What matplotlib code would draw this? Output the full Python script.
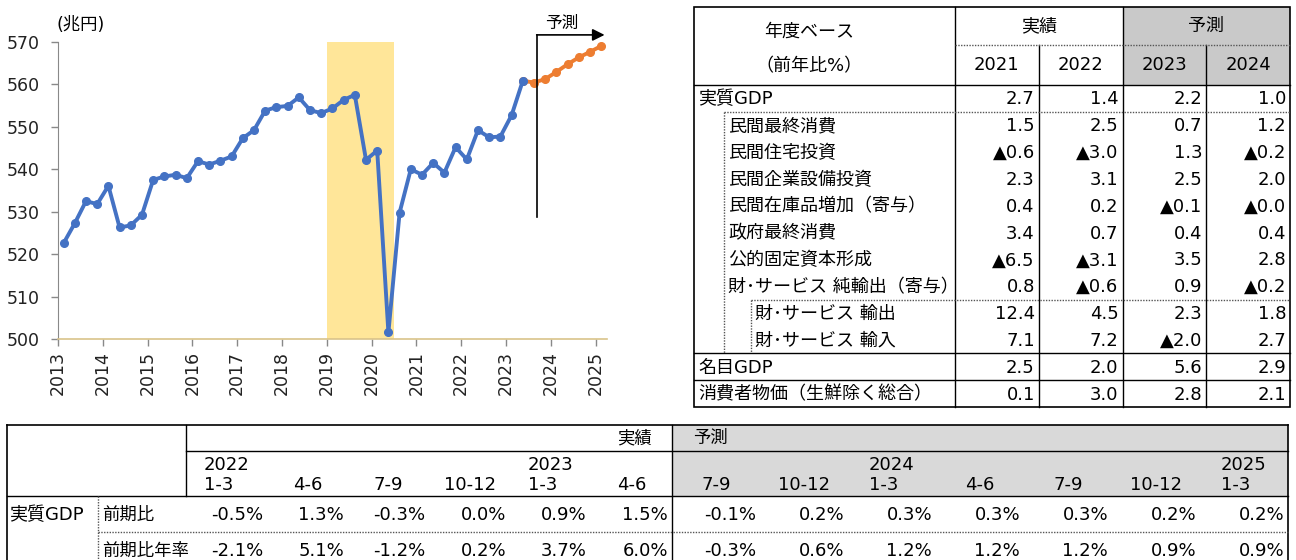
import numpy as np
import matplotlib
matplotlib.use("Agg")
import matplotlib.pyplot as plt
from matplotlib.patches import Rectangle

plt.rcParams["font.family"] = ["DejaVu Sans", "Noto Sans CJK JP"]

# ---- chart data (実質GDP, 兆円, quarterly from 2013 1-3) ----
start_year = 2013
gdp_actual = [
    522.6, 527.3, 532.5, 531.8,  # 2013
    536.1, 526.3, 526.8, 529.3,  # 2014
    537.5, 538.3, 538.7, 537.9,  # 2015
    541.9, 541.1, 542.0, 543.0,  # 2016
    547.3, 549.2, 553.8, 554.6,  # 2017
    554.9, 556.9, 553.9, 553.2,  # 2018
    554.3, 556.3, 557.5, 542.2,  # 2019
    544.4, 501.6, 529.8, 540.0,  # 2020
    538.7, 541.5, 539.2, 545.2,  # 2021
    542.3, 549.2, 547.5, 547.7,  # 2022
    552.7, 560.8,                # 2023
]
gdp_forecast = [560.4, 561.2, 562.9, 564.7, 566.3, 567.6, 569.0]
shade_start, shade_end = 24, 30  # quarter index span of shaded band

# ---- fiscal year table ----
fy_rows = ["実質GDP", "民間最終消費", "民間住宅投資", "民間企業設備投資",
           "民間在庫品増加（寄与）", "政府最終消費", "公的固定資本形成",
           "財･サービス 純輸出（寄与）", "財･サービス 輸出", "財･サービス 輸入",
           "名目GDP", "消費者物価（生鮮除く総合）"]
fy_indent = [0, 1, 1, 1, 1, 1, 1, 1, 2, 2, 0, 0]
fy_years = ["2021", "2022", "2023", "2024"]
fy_2021 = [2.7, 1.5, -0.6, 2.3, 0.4, 3.4, -6.5, 0.8, 12.4, 7.1, 2.5, 0.1]
fy_2022 = [1.4, 2.5, -3.0, 3.1, 0.2, 0.7, -3.1, -0.6, 4.5, 7.2, 2.0, 3.0]
fy_2023 = [2.2, 0.7, 1.3, 2.5, -0.1, 0.4, 3.5, 0.9, 2.3, -2.0, 5.6, 2.8]
fy_2024 = [1.0, 1.2, -0.2, 2.0, -0.0, 0.4, 2.8, -0.2, 1.8, 2.7, 2.9, 2.1]

# ---- quarterly table ----
q_years = ["2022", "", "", "", "2023", "", "", "", "2024", "", "", "", "2025"]
q_parts = ["1-3", "4-6", "7-9", "10-12", "1-3", "4-6", "7-9", "10-12",
           "1-3", "4-6", "7-9", "10-12", "1-3"]
q_qoq = [-0.5, 1.3, -0.3, 0.0, 0.9, 1.5, -0.1, 0.2, 0.3, 0.3, 0.3, 0.2, 0.2]
q_ann = [-2.1, 5.1, -1.2, 0.2, 3.7, 6.0, -0.3, 0.6, 1.2, 1.2, 1.2, 0.9, 0.9]
n_actual_q = 6

BLUE = "#4472C4"
ORANGE = "#ED7D31"
W, H = 1296, 560

fig = plt.figure(figsize=(W / 100, H / 100), dpi=100)


def px(x0, y0, w, h):
    return [x0 / W, 1 - (y0 + h) / H, w / W, h / H]


# ================= line chart =================
ax = fig.add_axes(px(58, 41.7, 548.8, 297.6))
n_total = len(gdp_actual) + len(gdp_forecast)
x_act = np.arange(len(gdp_actual)) + 0.5
x_fc = np.arange(len(gdp_actual) - 1, n_total) + 0.5
ax.axvspan(shade_start, shade_end, color="#FFE699", lw=0, zorder=0)
ax.plot(x_fc, [gdp_actual[-1]] + gdp_forecast, color=ORANGE, lw=2.8,
        marker="o", ms=5.5, zorder=3)
ax.plot(x_act, gdp_actual, color=BLUE, lw=2.8, marker="o", ms=5.5, zorder=4)

ax.set_xlim(0, n_total)
ax.set_ylim(500, 570)
ax.set_yticks(np.arange(500, 571, 10))
n_years = n_total // 4 + 1
ax.set_xticks(np.arange(n_years) * 4)
ax.set_xticklabels([str(start_year + i) for i in range(n_years)], rotation=90)
ax.tick_params(axis="both", labelsize=12.5, colors="#898989", labelcolor="#222222",
               length=5, width=1)
ax.tick_params(axis="y", pad=8)
for s in ("top", "right"):
    ax.spines[s].set_visible(False)
ax.spines["left"].set_color("#898989")
ax.spines["bottom"].set_color("#D9C38A")
ax.spines["bottom"].set_linewidth(1.2)

# forecast marker
fx = len(gdp_actual) + 0.8
ax.plot([fx, fx], [528.7, 571.6], color="black", lw=1.2, clip_on=False, zorder=5)
ax.annotate("", xy=(n_total - 0.2, 571.6), xytext=(fx - 0.06, 571.6),
            arrowprops=dict(arrowstyle="-|>", color="black", lw=1.2,
                            mutation_scale=18, shrinkA=0, shrinkB=0),
            annotation_clip=False)
ax.text(45.0, 574.4, "予測", fontsize=12, ha="center", va="center",
        family=["Noto Sans CJK JP"])
fig.text(57 / W, 1 - 25 / H, "(兆円)", fontsize=12.5, ha="left", va="center")

# ================= overlay for tables =================
tab = fig.add_axes([0, 0, 1, 1])
tab.set_xlim(0, W)
tab.set_ylim(H, 0)
tab.axis("off")
tab.patch.set_alpha(0)

LC = "black"
DOT = dict(color="#555555", lw=1.0, ls=(0, (1, 1)))


def hline(y, x0, x1, dotted=False, lw=1.0):
    if dotted:
        tab.plot([x0, x1], [y, y], **DOT)
    else:
        tab.plot([x0, x1], [y, y], color=LC, lw=lw)


def vline(x, y0, y1, dotted=False, lw=1.0):
    if dotted:
        tab.plot([x, x], [y0, y1], **DOT)
    else:
        tab.plot([x, x], [y0, y1], color=LC, lw=lw)


def tri(v):
    return ("▲%.1f" % abs(v)) if np.signbit(v) else ("%.1f" % v)


# ---- right: fiscal year table ----
L, R, T, B = 694, 1290, 7, 407
lab_r = 955
col_w = (R - lab_r) / 4
cols = [lab_r + i * col_w for i in range(5)]
h1, h2 = 45, 85
row_h = (B - h2) / len(fy_rows)
rows = [h2 + i * row_h for i in range(len(fy_rows) + 1)]

tab.add_patch(Rectangle((cols[2], T), R - cols[2], h2 - T, color="#C9C9C9", lw=0))
tab.add_patch(Rectangle((L, T), R - L, B - T, fill=False, ec=LC, lw=1.2))
vline(lab_r, T, B)
vline(cols[1], h1, B)
vline(cols[2], T, B)
vline(cols[3], h1, B)
hline(h1, lab_r, R, dotted=True)
hline(h2, L, R)
hline(rows[1], 724, R, dotted=True)
vline(724, rows[1], rows[10], dotted=True)
hline(rows[8], 751, R, dotted=True)
vline(751, rows[8], rows[10], dotted=True)
hline(rows[10], L, R)
hline(rows[11], L, R)

FS_R = 13
tab.text((L + lab_r) / 2 - 15, 32, "年度ベース", fontsize=FS_R, ha="center", va="center")
tab.text((L + lab_r) / 2 - 15, 66, "（前年比%）", fontsize=FS_R, ha="center", va="center")
tab.text((cols[0] + cols[2]) / 2, 26, "実績", fontsize=FS_R, ha="center", va="center")
tab.text((cols[2] + cols[4]) / 2, 26, "予測", fontsize=FS_R, ha="center", va="center")
for i, yr in enumerate(fy_years):
    tab.text((cols[i] + cols[i + 1]) / 2, 65, yr, fontsize=FS_R, ha="center", va="center")

indent_x = [698, 728, 755]
for r, (name, lev) in enumerate(zip(fy_rows, fy_indent)):
    yc = (rows[r] + rows[r + 1]) / 2 + 1
    tab.text(indent_x[lev], yc, name, fontsize=FS_R, ha="left", va="center")
    for c, series in enumerate([fy_2021, fy_2022, fy_2023, fy_2024]):
        tab.text(cols[c + 1] - 4, yc, tri(series[r]), fontsize=FS_R,
                 ha="right", va="center")

# ---- bottom: quarterly table ----
bL, bR, bT = 7, 1288, 425
b1, b2, b3 = 451, 496, 532
sub_x = 98
q_left = 186
split = 672
fc_w = (bR - split) / (len(q_parts) - n_actual_q)
ac_w = (split - q_left) / n_actual_q
q_edges = [q_left + i * ac_w for i in range(n_actual_q)] + \
          [split + i * fc_w for i in range(len(q_parts) - n_actual_q + 1)]

tab.add_patch(Rectangle((split, bT), bR - split, b2 - bT, color="#D9D9D9", lw=0))
hline(bT, bL, bR, lw=1.2)
vline(bL, bT, H + 5, lw=1.2)
vline(bR, bT, H + 5, lw=1.2)
vline(q_left, bT, b2)
vline(split, bT, H + 5)
hline(b1, q_left, bR)
hline(b2, bL, bR)
vline(sub_x, b2, H + 5, dotted=True)
hline(b3, sub_x, bR, dotted=True)

FS_B = 12.5
FS_N = 13
tab.text(split - 20, 438, "実績", fontsize=FS_B, ha="right", va="center")
tab.text(split + 21, 438, "予測", fontsize=FS_B, ha="left", va="center")
for i, (yr, part) in enumerate(zip(q_years, q_parts)):
    lbl = f"{yr}\n{part}" if yr else part
    tab.text((q_edges[i] + q_edges[i + 1]) / 2, 494, lbl, fontsize=FS_N,
             ha="center", va="bottom", multialignment="left", linespacing=1.15)
    tab.text(q_edges[i + 1] - 4, 515, "%.1f%%" % q_qoq[i], fontsize=FS_N,
             ha="right", va="center")
    tab.text(q_edges[i + 1] - 4, 551, "%.1f%%" % q_ann[i], fontsize=FS_N,
             ha="right", va="center")
tab.text(9, 515, "実質GDP", fontsize=FS_N, ha="left", va="center")
tab.text(102, 515, "前期比", fontsize=FS_B, ha="left", va="center")
tab.text(102, 551, "前期比年率", fontsize=FS_B, ha="left", va="center")

fig.savefig("out.png", dpi=100)
